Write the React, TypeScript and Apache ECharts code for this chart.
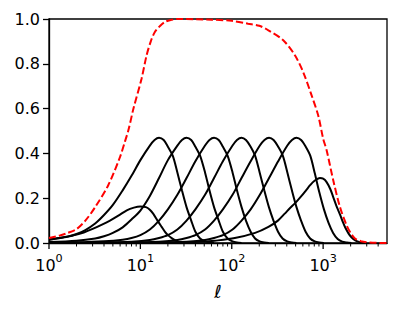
import React, { useEffect, useRef } from "react";
import * as echarts from "echarts";

// [ℓ, value] pairs
const curveA: number[][] = [[1,0.016],[1.4,0.025],[1.85,0.034],[2.4,0.047],[3.05,0.064],[3.8,0.082],[4.65,0.1],[5.8,0.123],[7.1,0.146],[8.5,0.158],[10,0.163],[11.5,0.16],[12.6,0.15],[13.8,0.131],[15.4,0.1],[17.1,0.072],[18.6,0.05],[20.2,0.034],[22,0.022],[23.9,0.013],[26,0.006],[28.5,0.002],[32,0]];
const curveB: number[][] = [[1,0.015],[1.6,0.028],[2,0.04],[2.5,0.058],[3.2,0.087],[4,0.125],[5,0.17],[6.4,0.235],[8,0.3],[10,0.37],[12.7,0.435],[14.3,0.46],[16,0.47],[18,0.46],[20,0.43],[22.6,0.39],[25.4,0.315],[28.5,0.235],[32,0.16],[36,0.1],[40,0.05],[45,0.02],[51,0.007],[57,0.002],[64,0]];
const curveC: number[][] = [[1,0.004],[2,0.01],[3.2,0.02],[4,0.03],[5,0.045],[6.4,0.07],[8,0.105],[10,0.145],[12.7,0.21],[16,0.29],[20,0.37],[25.4,0.435],[28.5,0.46],[32,0.47],[36,0.46],[40,0.43],[45,0.39],[51,0.315],[57,0.235],[64,0.16],[72,0.1],[80,0.05],[90,0.02],[102,0.007],[114,0.002],[128,0]];
const curveD: number[][] = [[1,0.001],[2,0.003],[4,0.008],[6.4,0.015],[8,0.022],[10,0.035],[12.7,0.06],[16,0.1],[20,0.15],[25.4,0.215],[32,0.29],[40,0.365],[51,0.435],[57,0.46],[64,0.47],[72,0.46],[80,0.43],[90,0.39],[102,0.315],[114,0.235],[128,0.16],[143,0.1],[161,0.05],[180,0.02],[202,0.007],[227,0.002],[255,0]];
const curveE: number[][] = [[1,0],[4,0.002],[8,0.006],[12.7,0.013],[16,0.022],[20,0.035],[25.4,0.06],[32,0.1],[40,0.15],[51,0.215],[64,0.29],[80,0.365],[102,0.435],[114,0.46],[128,0.47],[143,0.46],[161,0.43],[180,0.39],[202,0.315],[227,0.235],[255,0.16],[286,0.1],[321,0.05],[360,0.02],[404,0.007],[454,0.002],[510,0]];
const curveF: number[][] = [[1,0],[8,0.002],[16,0.006],[25.4,0.013],[32,0.022],[40,0.035],[51,0.06],[64,0.1],[80,0.15],[102,0.215],[128,0.29],[161,0.365],[203,0.435],[228,0.46],[256,0.47],[287,0.46],[322,0.43],[362,0.39],[406,0.315],[455,0.235],[511,0.16],[573,0.1],[643,0.05],[721,0.02],[809,0.007],[908,0.002],[1019,0]];
const curveG: number[][] = [[1,0],[16,0.002],[32,0.006],[51,0.013],[64,0.022],[80,0.035],[102,0.06],[128,0.1],[161,0.15],[203,0.215],[256,0.29],[322,0.365],[406,0.435],[456,0.46],[512,0.47],[574,0.46],[645,0.43],[723,0.39],[812,0.31],[910,0.225],[1021,0.15],[1146,0.09],[1286,0.045],[1443,0.018],[1618,0.006],[1816,0.002],[2038,0]];
const curveH: number[][] = [[1,0],[20,0.002],[50,0.006],[65,0.01],[108,0.022],[180,0.045],[252,0.072],[320,0.1],[380,0.131],[432,0.155],[500,0.18],[580,0.21],[650,0.235],[720,0.258],[800,0.277],[922,0.29],[1000,0.287],[1092,0.272],[1200,0.24],[1290,0.205],[1400,0.165],[1527,0.128],[1650,0.092],[1740,0.07],[1900,0.042],[2040,0.026],[2250,0.012],[2420,0.006],[2700,0.002],[3000,0]];
const totalRed: number[][] = [[1,0.022],[1.3,0.033],[1.6,0.045],[2,0.062],[2.5,0.1],[3.2,0.16],[4.45,0.258],[6,0.385],[6.8,0.455],[7.4,0.504],[8.4,0.6],[10.3,0.733],[11.7,0.838],[13,0.9],[14.4,0.942],[16.5,0.97],[18.6,0.987],[22,0.997],[26,1.0],[60,0.997],[100,0.992],[151,0.979],[200,0.97],[252,0.949],[366,0.905],[491,0.838],[605,0.763],[748,0.659],[884,0.569],[1002,0.465],[1092,0.414],[1290,0.28],[1527,0.161],[1806,0.079],[2000,0.045],[2230,0.02],[2600,0.008],[2990,0.003],[3500,0.001],[5000,0]];

const blackCurves = [curveA, curveB, curveC, curveD, curveE, curveF, curveG, curveH];

const xMin = 1;
const xMax = 5000;
const majorTicks = [1, 10, 100, 1000];
const minorTicks = [2,3,4,5,6,7,8,9,20,30,40,50,60,70,80,90,200,300,400,500,600,700,800,900,2000,3000,4000];
const yTicks = [0, 0.2, 0.4, 0.6, 0.8, 1.0];

const FONT = "DejaVu Sans";

export default function App() {
  const ref = useRef<HTMLDivElement>(null);
  useEffect(() => {
    document.body.style.margin = "0";
    const chart = echarts.init(ref.current!, null, { renderer: "svg" });
    const tickData = [
      ...majorTicks.map((v) => [v, 1]),
      ...minorTicks.map((v) => [v, 0]),
    ];
    const series: any[] = blackCurves.map((c) => ({
      type: "line",
      data: c,
      showSymbol: false,
      symbol: "none",
      smooth: 0.3,
      lineStyle: { color: "#000", width: 2 },
      z: 2,
    }));
    series.push({
      type: "line",
      data: totalRed,
      showSymbol: false,
      symbol: "none",
      smooth: 0.3,
      lineStyle: { color: "#ff0000", width: 2, type: [7, 3] },
      z: 3,
    });
    series.push({
      type: "custom",
      coordinateSystem: "cartesian2d",
      clip: false,
      data: tickData,
      z: 5,
      renderItem: (params: any, api: any) => {
        const p = api.coord([api.value(0), 0]);
        const len = api.value(1) === 1 ? 6 : 3.5;
        return {
          type: "line",
          shape: { x1: p[0], y1: p[1], x2: p[0], y2: p[1] + len },
          style: { stroke: "#000", lineWidth: api.value(1) === 1 ? 1.3 : 1 },
        };
      },
    });
    chart.setOption({
      animation: false,
      grid: {
        left: 49,
        right: 12,
        top: 19,
        bottom: 76,
        show: true,
        borderColor: "#000",
        borderWidth: 1.3,
        backgroundColor: "transparent",
      },
      xAxis: {
        type: "log",
        logBase: 10,
        min: xMin,
        max: xMax,
        splitNumber: 4,
        name: "ℓ",
        nameLocation: "middle",
        nameGap: 39,
        nameTextStyle: { fontSize: 18, fontStyle: "italic", fontFamily: FONT, color: "#000" },
        axisLine: { show: true, lineStyle: { color: "#000", width: 1.3 } },
        axisTick: { show: false },
        splitLine: { show: false },
        minorTick: { show: false },
        axisLabel: {
          margin: 10,
          color: "#000",
          fontFamily: FONT,
          formatter: (v: number) => {
            const e = Math.round(Math.log10(v));
            if (Math.abs(v - Math.pow(10, e)) > 1e-6 * v) return "";
            if (!majorTicks.includes(Math.pow(10, e))) return "";
            return `{b|10}{s|${e}}`;
          },
          rich: {
            b: { fontSize: 16, fontFamily: FONT, color: "#000", lineHeight: 20, verticalAlign: "bottom" },
            s: { fontSize: 11.2, fontFamily: FONT, color: "#000", lineHeight: 12, verticalAlign: "top" },
          },
        },
      },
      yAxis: {
        type: "value",
        min: 0,
        max: 1,
        interval: 0.2,
        axisLine: { show: true, lineStyle: { color: "#000", width: 1.3 } },
        axisTick: { show: true, length: 6, inside: false, lineStyle: { color: "#000", width: 1.3 } },
        splitLine: { show: false },
        axisLabel: {
          margin: 9,
          fontSize: 16,
          fontFamily: FONT,
          color: "#000",
          formatter: (v: number) => {
            const t = yTicks.find((y) => Math.abs(y - v) < 1e-9);
            return t === undefined ? "" : t.toFixed(1);
          },
        },
      },
      series,
    });
    return () => chart.dispose();
  }, []);
  return <div ref={ref} style={{ width: 399, height: 319 }} />;
}
